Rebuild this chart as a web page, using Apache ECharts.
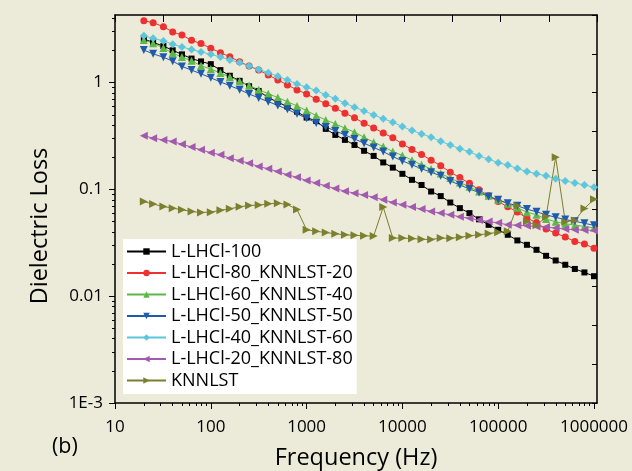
<!DOCTYPE html>
<html>
<head>
<meta charset="utf-8">
<script src="https://cdn.jsdelivr.net/npm/echarts@6/dist/echarts.min.js"></script>
<style>
  html, body { margin: 0; padding: 0; background: #ecead8; }
  #chart { width: 632px; height: 471px; }
</style>
</head>
<body>
<div id="chart"></div>
<script>
// frequencies (Hz), 10 points per decade
const freq = [20, 25, 32, 40, 50, 63, 79,
  100, 126, 158, 200, 251, 316, 398, 501, 631, 794,
  1000, 1259, 1585, 1995, 2512, 3162, 3981, 5012, 6310, 7943,
  10000, 12589, 15849, 19953, 25119, 31623, 39811, 50119, 63096, 79433,
  100000, 125893, 158489, 199526, 251189, 316228, 398107, 501187, 630957, 794328,
  1000000];

const lhcl100 = [2.56, 2.38, 2.20, 2.01, 1.84, 1.68, 1.58, 1.49, 1.31, 1.16,
  1.04, 0.925, 0.836, 0.724, 0.656, 0.596, 0.535, 0.471, 0.438, 0.369,
  0.324, 0.291, 0.261, 0.230, 0.206, 0.179, 0.160, 0.140, 0.123, 0.110,
  0.0956, 0.0866, 0.0754, 0.0668, 0.0600, 0.0525, 0.0466, 0.0419, 0.0376, 0.0333,
  0.0303, 0.0272, 0.0239, 0.0216, 0.0197, 0.0180, 0.0167, 0.0154];
const lhcl80 = [3.80, 3.64, 3.34, 2.98, 2.79, 2.49, 2.32, 2.10, 1.91, 1.75,
  1.57, 1.43, 1.31, 1.18, 1.06, 0.952, 0.855, 0.784, 0.700, 0.636,
  0.576, 0.518, 0.468, 0.417, 0.377, 0.338, 0.304, 0.267, 0.236, 0.212,
  0.188, 0.167, 0.145, 0.129, 0.114, 0.0991, 0.0871, 0.0771, 0.0687, 0.0614,
  0.0537, 0.0490, 0.0425, 0.0390, 0.0358, 0.0326, 0.0308, 0.0282];
const lhcl60 = [2.51, 2.34, 2.11, 1.89, 1.74, 1.60, 1.44, 1.34, 1.23, 1.13,
  1.03, 0.942, 0.858, 0.789, 0.724, 0.663, 0.605, 0.547, 0.491, 0.448,
  0.411, 0.375, 0.344, 0.308, 0.277, 0.252, 0.226, 0.208, 0.188, 0.170,
  0.155, 0.141, 0.128, 0.116, 0.106, 0.0956, 0.0871, 0.0799, 0.0733, 0.0673,
  0.0613, 0.0579, 0.0528, 0.0498, 0.0477, 0.0463, 0.0450, 0.0437];
const lhcl50 = [2.02, 1.86, 1.73, 1.59, 1.42, 1.31, 1.21, 1.11, 1.015, 0.937,
  0.860, 0.784, 0.719, 0.664, 0.612, 0.562, 0.510, 0.465, 0.420, 0.385,
  0.353, 0.324, 0.297, 0.271, 0.247, 0.226, 0.203, 0.185, 0.170, 0.156,
  0.145, 0.134, 0.120, 0.110, 0.101, 0.0935, 0.0858, 0.0799, 0.0744, 0.0702,
  0.0654, 0.0617, 0.0579, 0.0548, 0.0522, 0.0503, 0.0482, 0.0461];
const lhcl40 = [2.75, 2.60, 2.46, 2.29, 2.16, 2.04, 1.94, 1.84, 1.74, 1.63,
  1.54, 1.43, 1.33, 1.24, 1.15, 1.06, 0.972, 0.906, 0.845, 0.767,
  0.708, 0.642, 0.589, 0.544, 0.499, 0.460, 0.426, 0.388, 0.356, 0.331,
  0.308, 0.283, 0.260, 0.241, 0.225, 0.206, 0.192, 0.178, 0.169, 0.157,
  0.147, 0.140, 0.134, 0.126, 0.120, 0.115, 0.110, 0.105];
const lhcl20 = [0.319, 0.302, 0.291, 0.281, 0.265, 0.249, 0.235, 0.221, 0.211, 0.196,
  0.186, 0.176, 0.164, 0.156, 0.147, 0.137, 0.130, 0.121, 0.115, 0.108,
  0.102, 0.0964, 0.0923, 0.0885, 0.0847, 0.0799, 0.0754, 0.0718, 0.0683, 0.0654,
  0.0621, 0.0600, 0.0579, 0.0554, 0.0537, 0.0516, 0.0500, 0.0487, 0.0466, 0.0463,
  0.0456, 0.0450, 0.0444, 0.0435, 0.0425, 0.0419, 0.0417, 0.0413];
const knnlst = [0.0770, 0.0729, 0.0692, 0.0668, 0.0645, 0.0621, 0.0608, 0.0613, 0.0638, 0.0658,
  0.0688, 0.0707, 0.0713, 0.0733, 0.0744, 0.0721, 0.0649, 0.0419, 0.0405, 0.0395,
  0.0384, 0.0376, 0.0372, 0.0368, 0.0366, 0.0683, 0.0350, 0.0350, 0.0347, 0.0341,
  0.0340, 0.0350, 0.0349, 0.0356, 0.0368, 0.0376, 0.0386, 0.0397, 0.0405, 0.0702,
  0.0501, 0.0461, 0.0554, 0.200, 0.0498, 0.0512, 0.0663, 0.0808];

const xTickLabels = ['10', '100', '1000', '10000', '100000', '1000000'];
const yTickLabels = ['1E-3', '0.01', '0.1', '1'];
const X_MIN = 10, X_MAX = 1075000;
const Y_MIN = 0.001, Y_MAX = 4.3;

const FONT = 'Open Sans';
const series = [
  { name: 'L-LHCl-100', data: lhcl100, color: '#000000', symbol: 'rect', size: 6, rot: 0 },
  { name: 'L-LHCl-80_KNNLST-20', data: lhcl80, color: '#ee3030', symbol: 'circle', size: 7, rot: 0 },
  { name: 'L-LHCl-60_KNNLST-40', data: lhcl60, color: '#5cb848', symbol: 'triangle', size: 8, rot: 0 },
  { name: 'L-LHCl-50_KNNLST-50', data: lhcl50, color: '#1f5aad', symbol: 'triangle', size: 8, rot: 180 },
  { name: 'L-LHCl-40_KNNLST-60', data: lhcl40, color: '#5cc6dc', symbol: 'diamond', size: 8, rot: 0 },
  { name: 'L-LHCl-20_KNNLST-80', data: lhcl20, color: '#a25aae', symbol: 'triangle', size: 8, rot: 90 },
  { name: 'KNNLST', data: knnlst, color: '#7b7f2e', symbol: 'triangle', size: 8, rot: -90 },
];

// tick positions in log10 space for the helper axes
function decadeTicks(lo, hi, mults) {
  const out = [];
  for (let e = lo; e <= hi; e++) mults.forEach(m => out.push(Math.log10(m) + e));
  return out;
}
const xMajor = decadeTicks(1, 6, [1]);
const xMinor = decadeTicks(1, 6, [2, 3, 4, 5, 6, 7, 8, 9]).filter(v => v < Math.log10(X_MAX));
const yMajor = decadeTicks(-3, 0, [1]);
const yMinor = decadeTicks(-3, 0, [2, 3, 4, 5, 6, 7, 8, 9]).filter(v => v < Math.log10(Y_MAX));

function powLabel(labels, offset) {
  return v => {
    const l = Math.log10(v), e = Math.round(l);
    if (Math.abs(l - e) > 1e-6) return '';
    return labels[e - offset] || '';
  };
}

const black = '#000';
// invisible value axis that only draws ticks at given log10 positions
const helper = (pos, min, max, vals, len) => ({
  type: 'value', position: pos, min, max,
  axisLine: { show: false, onZero: false },
  axisLabel: { show: false }, splitLine: { show: false },
  axisTick: { show: true, customValues: vals, length: len, lineStyle: { color: black, width: 1 } },
});

const chart = echarts.init(document.getElementById('chart'));
chart.setOption({
  animation: false,
  backgroundColor: '#ecead8',
  textStyle: { fontFamily: FONT },
  grid: { left: 115, right: 35, top: 15, bottom: 68, outerBoundsMode: 'none', containLabel: false },
  legend: {
    orient: 'vertical', left: 123, top: 239,
    backgroundColor: '#ffffff', padding: [2.5, 4, 3.5, 3],
    itemWidth: 39, itemHeight: 8, itemGap: 1.5,
    textStyle: { fontSize: 18, fontFamily: FONT, color: '#000', lineHeight: 20 },
    data: series.map(s => s.name),
  },
  xAxis: [
    {
      type: 'log', logBase: 10, min: X_MIN, max: X_MAX, position: 'bottom',
      name: 'Frequency (Hz)', nameLocation: 'middle', nameGap: 43,
      nameTextStyle: { fontSize: 23.5, fontFamily: FONT, color: '#000' },
      axisLine: { show: true, onZero: false, lineStyle: { color: black, width: 1.5 } },
      axisTick: { show: false },
      axisLabel: { fontSize: 17, color: '#000', margin: 16, formatter: powLabel(xTickLabels, 1), showMaxLabel: false },
      splitLine: { show: false }, minorTick: { show: false },
    },
    helper('bottom', 1, Math.log10(X_MAX), xMajor, 6),
    helper('bottom', 1, Math.log10(X_MAX), xMinor, 3),
    {
      type: 'value', position: 'top', min: 0, max: 10, interval: 1,
      axisLine: { show: true, onZero: false, lineStyle: { color: black, width: 1.5 } },
      axisTick: { show: true, inside: true, length: 7, lineStyle: { color: black, width: 1 } },
      axisLabel: { show: false }, splitLine: { show: false },
    },
  ],
  yAxis: [
    {
      type: 'log', logBase: 10, min: Y_MIN, max: Y_MAX, position: 'left',
      name: 'Dielectric Loss', nameLocation: 'middle', nameGap: 63, nameRotate: 90,
      nameTextStyle: { fontSize: 23.5, fontFamily: FONT, color: '#000', padding: [0, 34, 0, 0] },
      axisLine: { show: true, onZero: false, lineStyle: { color: black, width: 1.5 } },
      axisTick: { show: false },
      axisLabel: { fontSize: 17, color: '#000', margin: 12, formatter: powLabel(yTickLabels, -3), showMaxLabel: false },
      splitLine: { show: false }, minorTick: { show: false },
    },
    helper('left', -3, Math.log10(Y_MAX), yMajor, 6),
    helper('left', -3, Math.log10(Y_MAX), yMinor, 3),
    {
      type: 'value', position: 'right', min: 0, max: 10, interval: 1,
      axisLine: { show: true, onZero: false, lineStyle: { color: black, width: 1.5 } },
      axisTick: { show: true, inside: true, length: 5, lineStyle: { color: black, width: 1 } },
      axisLabel: { show: false }, splitLine: { show: false },
    },
  ],
  graphic: [
    { type: 'text', left: 52, top: 436, style: { text: '(b)', fontSize: 21.5, fontFamily: FONT, fill: '#000' } },
  ],
  series: series.map(s => ({
    name: s.name, type: 'line', xAxisIndex: 0, yAxisIndex: 0,
    data: freq.map((f, i) => [f, s.data[i]]),
    symbol: s.symbol, symbolSize: s.size, symbolRotate: s.rot, showAllSymbol: true,
    lineStyle: { color: s.color, width: 1 },
    itemStyle: { color: s.color },
  })),
});
</script>
</body>
</html>
